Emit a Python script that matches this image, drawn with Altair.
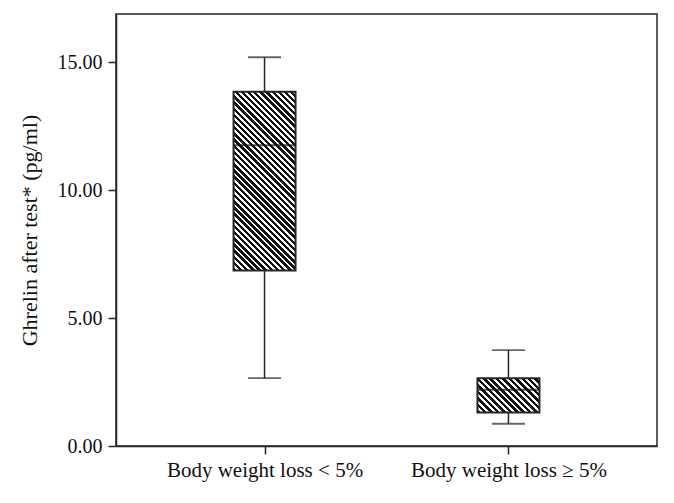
import math
import altair as alt
import pandas as pd

# ---- data ----
categories = ["Body weight loss < 5%", "Body weight loss ≥ 5%"]
lower_whisker = [2.65, 0.87]
q1 = [6.86, 1.31]
median = [11.75, 2.20]
q3 = [13.84, 2.65]
upper_whisker = [15.19, 3.75]

y_ticks = [0, 5, 10, 15]
y_max = 16.88

df = pd.DataFrame({
    "group": categories,
    "lo": lower_whisker,
    "q1": q1,
    "med": median,
    "q3": q3,
    "hi": upper_whisker,
})

# ---- layout / style ----
W, H = 541, 432
BOX_W = 62
CAP_W = 33
FONT = "Liberation Serif"
INK = "#262626"
px_per_unit = H / y_max


def hatch(box_w, box_h, period=4.4, black=0.55):
    """Diagonal '\\' hatch as a striped linear gradient in bounding-box units."""
    c = (box_w + box_h) / (box_w ** 2 + box_h ** 2)
    n = max(1, round((box_w + box_h) / math.sqrt(2) / period))
    stops = []
    for k in range(n):
        a, m, b = k / n, (k + black) / n, (k + 1) / n
        stops += [
            {"offset": a, "color": "#111111"},
            {"offset": m, "color": "#111111"},
            {"offset": m, "color": "#ffffff"},
            {"offset": b, "color": "#ffffff"},
        ]
    return {
        "gradient": "linear",
        "x1": 0, "y1": 1,
        "x2": c * box_w, "y2": 1 - c * box_h,
        "stops": stops,
    }


x_enc = alt.X(
    "group:N",
    sort=categories,
    scale=alt.Scale(type="point", padding=0.609),
    axis=alt.Axis(title=None, labelAngle=0),
)
y_scale = alt.Scale(domain=[0, y_max], nice=False, zero=True)

base = alt.Chart(df)

whisker = base.mark_rule(color=INK, strokeWidth=1.5).encode(
    x=x_enc,
    y=alt.Y("lo:Q", scale=y_scale,
            axis=alt.Axis(values=y_ticks, format=".2f",
                          title="Ghrelin after test* (pg/ml)")),
    y2="hi:Q",
)

caps_lo = base.mark_tick(color=INK, size=CAP_W, thickness=1.8,
                         orient="horizontal").encode(
    x=x_enc, y=alt.Y("lo:Q", scale=y_scale))
caps_hi = base.mark_tick(color=INK, size=CAP_W, thickness=1.8,
                         orient="horizontal").encode(
    x=x_enc, y=alt.Y("hi:Q", scale=y_scale))

boxes = []
for i, cat in enumerate(categories):
    bh = (q3[i] - q1[i]) * px_per_unit
    boxes.append(
        base.transform_filter(alt.datum.group == cat)
        .mark_bar(size=BOX_W, fill=hatch(BOX_W, bh), stroke=INK,
                  strokeWidth=2, opacity=1)
        .encode(x=x_enc, y=alt.Y("q1:Q", scale=y_scale), y2="q3:Q")
    )

med = base.mark_tick(color="#111111", size=BOX_W, thickness=2,
                     orient="horizontal").encode(
    x=x_enc, y=alt.Y("med:Q", scale=y_scale))

chart = (
    alt.layer(whisker, *boxes, med, caps_lo, caps_hi)
    .properties(
        width=W, height=H,
        autosize=alt.AutoSizeParams(type="none"),
        padding={"left": 108, "top": 6, "right": 9, "bottom": 40},
    )
    .configure_view(stroke=INK, strokeWidth=1.5)
    .configure_axis(
        labelFont=FONT, titleFont=FONT,
        labelFontSize=20, titleFontSize=22, titleFontWeight="normal",
        labelColor="#111111", titleColor="#111111",
        domainColor=INK, domainWidth=1.5,
        tickColor=INK, tickWidth=1.5, tickSize=8,
        grid=False, labelLimit=0,
    )
    .configure_axisY(labelPadding=6, titlePadding=16)
    .configure_axisX(labelPadding=5, labelFontSize=21)
)

chart.save("out.html", embed_options={"renderer": "svg", "actions": False})
